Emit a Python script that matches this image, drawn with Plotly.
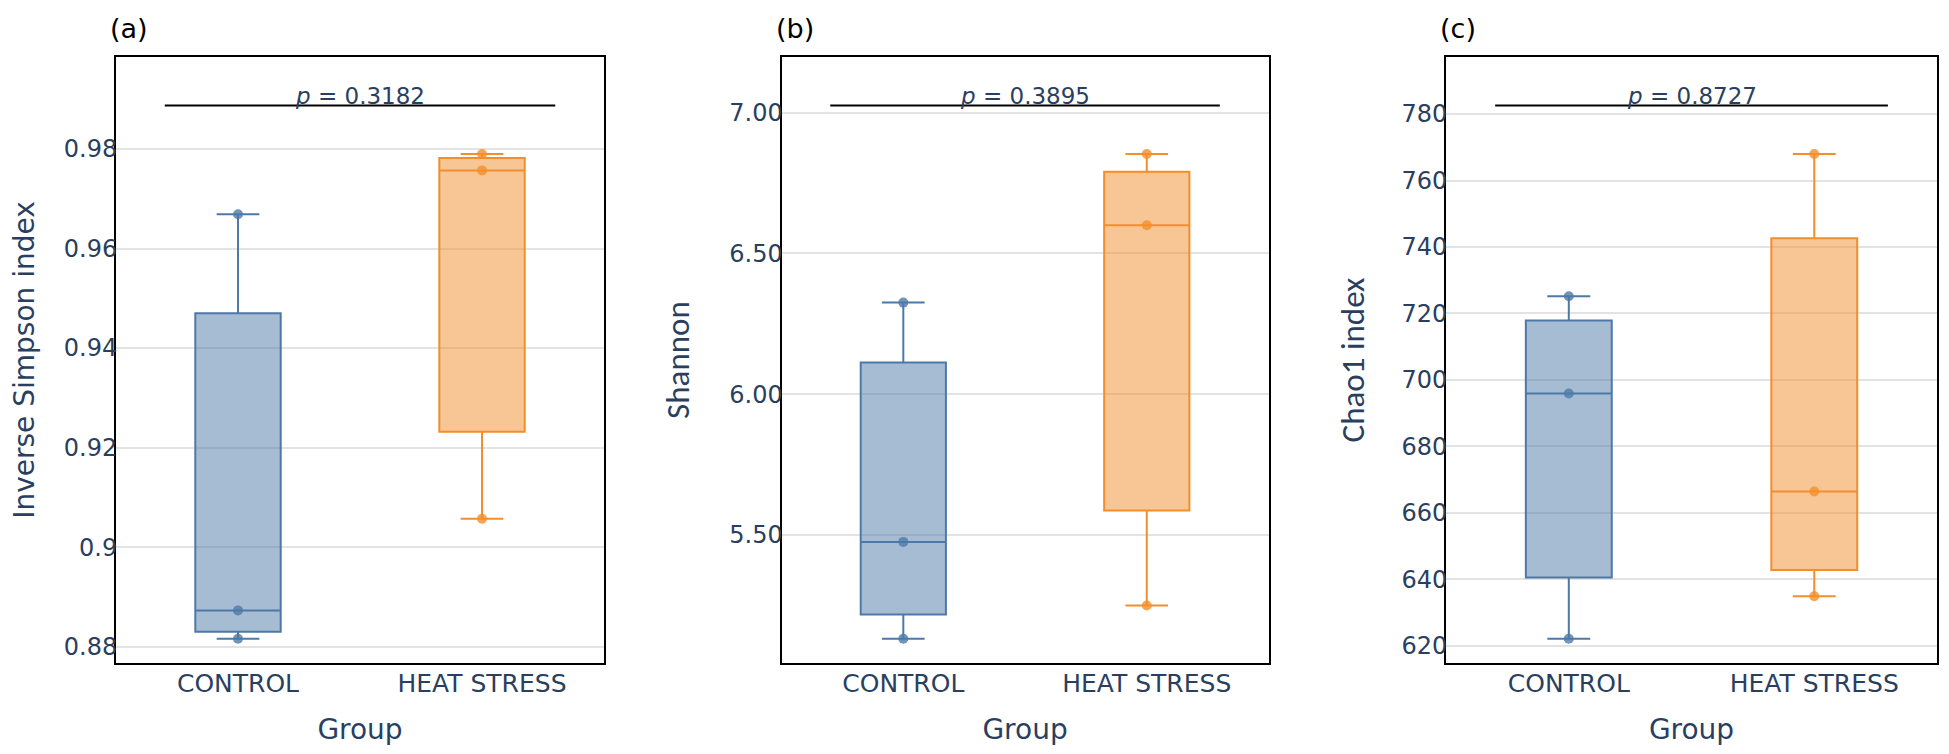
import plotly.graph_objects as go

# グループ名と各指標の値（各群3サンプル）
groups = ["CONTROL", "HEAT STRESS"]
inv_simpson_control = [0.8816, 0.8873, 0.9669]
inv_simpson_heat = [0.9057, 0.9757, 0.9790]
shannon_control = [5.131, 5.475, 6.325]
shannon_heat = [5.249, 6.600, 6.853]
chao1_control = [622.1, 695.9, 725.2]
chao1_heat = [634.9, 666.4, 768.0]
p_values = ["0.3182", "0.3895", "0.8727"]
panel_labels = ["(a)", "(b)", "(c)"]
y_titles = ["Inverse Simpson index", "Shannon", "Chao1 index"]

COLORS = ["#4e79a7", "#f28e2b"]
FONT = "DejaVu Sans, Verdana, sans-serif"
NARROW_FONT = "Calibri, Carlito, Noto Sans, sans-serif"
TEXT_COLOR = "#2a3f5f"

panels = [
    (inv_simpson_control, inv_simpson_heat),
    (shannon_control, shannon_heat),
    (chao1_control, chao1_heat),
]
domains = [[0.0, 0.268], [0.3655, 0.6329], [0.7304, 1.0]]
tickformats = ["", ".2f", ""]
dticks = [0.02, 0.5, 20]
title_standoffs = [34, 30, 27]

fig = go.Figure()

for i, (ctrl, heat) in enumerate(panels):
    n = "" if i == 0 else str(i + 1)
    for g, vals, col in zip(groups, (ctrl, heat), COLORS):
        fig.add_trace(go.Box(
            x=[g] * len(vals), y=vals, name=g,
            xaxis="x" + n, yaxis="y" + n,
            boxpoints="all", jitter=0, pointpos=0,
            marker=dict(color=col, size=10, opacity=0.8),
            line=dict(color=col, width=2),
            showlegend=False,
        ))

    all_vals = ctrl + heat
    lo, hi = min(all_vals), max(all_vals)
    span = hi - lo
    y_line = hi + 0.1 * span

    # 軸の設定
    fig.update_layout({
        "xaxis" + n: dict(
            domain=domains[i], anchor="y" + n,
            categoryorder="array", categoryarray=groups,
            title=dict(text="Group", standoff=26,
                       font=dict(size=28, family=FONT, color=TEXT_COLOR)),
            tickfont=dict(size=25, family=FONT, color=TEXT_COLOR),
            ticklabelstandoff=-3,
            showline=True, linecolor="black", linewidth=2, mirror=True,
            showgrid=False,
        ),
        "yaxis" + n: dict(
            anchor="x" + n,
            range=[lo - 0.05 * span, hi + 0.2 * span],
            dtick=dticks[i], tickformat=tickformats[i],
            title=dict(
                text=y_titles[i], standoff=title_standoffs[i],
                font=dict(size=28 if i == 0 else 33,
                          family=FONT if i == 0 else NARROW_FONT,
                          color=TEXT_COLOR),
            ),
            tickfont=dict(size=24, family=FONT, color=TEXT_COLOR),
            ticklabelstandoff=-8,
            showline=True, linecolor="black", linewidth=2, mirror=True,
            showgrid=True, gridcolor="#e3e3e3", gridwidth=1.5, zeroline=False,
        ),
    })

    # p値のブラケット
    fig.add_shape(type="line", xref="x" + n, yref="y" + n,
                  x0=-0.3, x1=1.3, y0=y_line, y1=y_line,
                  line=dict(color="black", width=2))
    fig.add_annotation(xref="x" + n, yref="y" + n, x=0.5, y=y_line,
                       text="<i>p</i> = " + p_values[i], showarrow=False,
                       yanchor="bottom", yshift=-6,
                       font=dict(size=23, family=FONT, color=TEXT_COLOR))

    # パネルラベル
    fig.add_annotation(xref="paper", yref="paper", x=domains[i][0], y=1,
                       text=panel_labels[i], showarrow=False,
                       xanchor="left", yanchor="bottom", xshift=-7, yshift=12,
                       borderpad=0,
                       font=dict(size=27, family=FONT, color="black"))

fig.update_layout(
    width=1933, height=738,
    margin=dict(l=106, r=2, t=49, b=77),
    plot_bgcolor="white", paper_bgcolor="white",
    boxmode="overlay", boxgap=0.5,
    showlegend=False,
)

fig.write_html("out.html")
